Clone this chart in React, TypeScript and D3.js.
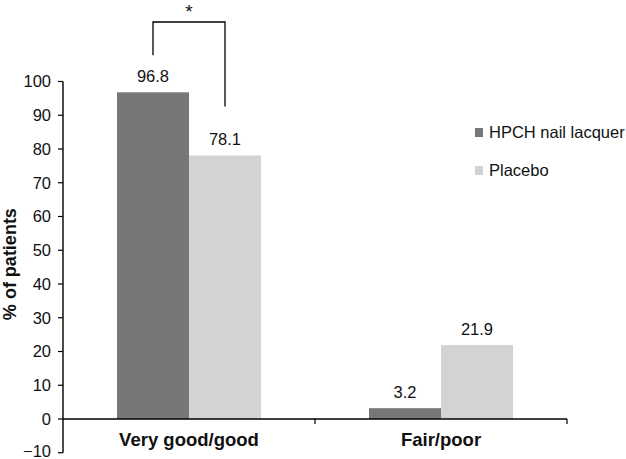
import React from "react";
import * as d3 from "d3";

const categories = ["Very good/good", "Fair/poor"];
const seriesNames = ["HPCH nail lacquer", "Placebo"];
const hpchValues = [96.8, 3.2];
const placeboValues = [78.1, 21.9];
const yTicks = [-10, 0, 10, 20, 30, 40, 50, 60, 70, 80, 90, 100];
const colors = ["#777777", "#d3d3d3"];

export default function App() {
  const W = 626, H = 459;
  const font = "'Liberation Sans', Arial, sans-serif";
  const y = d3.scaleLinear().domain([-10, 100]).range([452.75, 81.5]);
  const x0 = d3.scaleBand().domain(categories).range([63, 567]).paddingInner(0).paddingOuter(0);
  const x1 = d3.scaleBand().domain(seriesNames).range([0, 144]);
  const groupOffset = (x0.bandwidth() - 144) / 2;
  const series = [hpchValues, placeboValues];

  const barX = (ci: number, si: number) => (x0(categories[ci]) as number) + groupOffset + (x1(seriesNames[si]) as number);
  const bw = x1.bandwidth();

  const leftX = barX(0, 0) + bw / 2;
  const rightX = barX(0, 1) + bw / 2;
  const bracketTop = 22;

  return (
    <svg width={W} height={H} style={{ position: "absolute", left: 0, top: 0, background: "#fff" }} fontFamily={font}>
      {/* bars */}
      {categories.map((c, ci) =>
        series.map((vals, si) => {
          const v = vals[ci];
          const bx = barX(ci, si);
          return (
            <g key={c + si}>
              <rect x={bx} y={y(v)} width={bw} height={y(0) - y(v)} fill={colors[si]} />
              <text x={bx + bw / 2} y={y(v) - 10} textAnchor="middle" fontSize={16.5} fill="#111">
                {v.toFixed(1)}
              </text>
            </g>
          );
        })
      )}
      {/* y axis */}
      <line x1={63} x2={63} y1={y(100)} y2={y(-10)} stroke="#000" strokeWidth={1.4} />
      {yTicks.map((t) => (
        <g key={t}>
          <line x1={58} x2={63} y1={y(t)} y2={y(t)} stroke="#000" strokeWidth={1.2} />
          <text x={51} y={t < 0 ? y(t) - 1.5 : y(t)} dy="0.35em" textAnchor="end" fontSize={16.5} fill="#111">
            {t < 0 ? "\u2212" + Math.abs(t) : t}
          </text>
        </g>
      ))}
      {/* x axis */}
      <line x1={63} x2={567} y1={y(0)} y2={y(0)} stroke="#000" strokeWidth={1.4} />
      {[1, 2].map((i) => {
        const xx = 63 + i * x0.bandwidth();
        return <line key={i} x1={xx} x2={xx} y1={y(0)} y2={y(0) + 5} stroke="#000" strokeWidth={1.2} />;
      })}
      {categories.map((c) => (
        <text key={c} x={(x0(c) as number) + x0.bandwidth() / 2} y={446} textAnchor="middle" fontSize={18.5} fontWeight="bold" fill="#111">
          {c}
        </text>
      ))}
      {/* y title */}
      <text transform={`translate(15.5,${(y(100) + y(-10)) / 2 - 3}) rotate(-90)`} textAnchor="middle" fontSize={18} fontWeight="bold" fill="#111">
        % of patients
      </text>
      {/* significance bracket */}
      <path
        d={`M${leftX},${y(hpchValues[0]) - 37}V${bracketTop}H${rightX}V${y(placeboValues[0]) - 49}`}
        fill="none"
        stroke="#000"
        strokeWidth={1.3}
      />
      <text x={(leftX + rightX) / 2} y={18} textAnchor="middle" fontSize={19} fill="#111">*</text>
      {/* legend */}
      {seriesNames.map((s, i) => (
        <g key={s} transform={`translate(475,${128 + i * 38})`}>
          <rect x={0} y={0} width={8} height={9} fill={colors[i]} />
          <text x={14} y={9.5} fontSize={16.5} fill="#111">{s}</text>
        </g>
      ))}
    </svg>
  );
}
